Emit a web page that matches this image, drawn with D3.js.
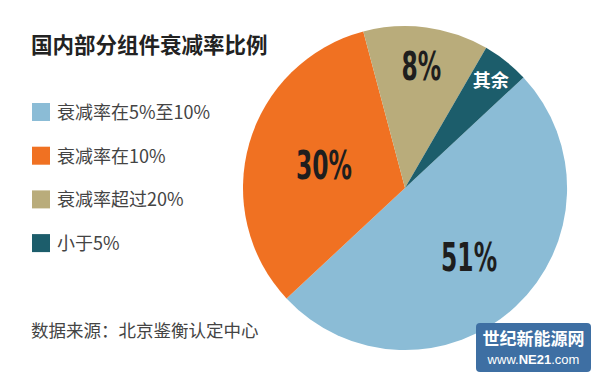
<!DOCTYPE html>
<html>
<head>
<meta charset="utf-8">
<script src="https://cdn.jsdelivr.net/npm/d3@7"></script>
<style>
  body { margin: 0; background: #fff; }
  svg { display: block; }
</style>
</head>
<body>
<div id="chart"></div>
<script>
// data
var categories = ['衰减率在5%至10%', '衰减率在10%', '衰减率超过20%', '小于5%'];
var sliceValues = [50, 32.8, 12.5, 4.7];
var sliceLabels = ['51%', '30%', '8%', '其余'];
var colors = ['#8bbcd6', '#f07122', '#b9ac7b', '#1c5d6b'];

var width = 600, height = 377;

var svg = d3.select('#chart').append('svg')
    .attr('width', width)
    .attr('height', height)
    .style('font-family', '"Noto Sans CJK SC", "Noto Sans", sans-serif');

svg.append('rect').attr('width', width).attr('height', height).attr('fill', '#fff');

// title
svg.append('text')
    .attr('x', 31).attr('y', 53)
    .attr('font-size', 21.5)
    .attr('font-weight', 'bold')
    .attr('fill', '#222')
    .text('国内部分组件衰减率比例');

// legend
var legend = svg.selectAll('.leg')
    .data(categories)
    .enter().append('g')
    .attr('class', 'leg')
    .attr('transform', function(d, i) { return 'translate(32,' + (103 + i * 43.7) + ')'; });

legend.append('rect')
    .attr('width', 18).attr('height', 18)
    .attr('fill', function(d, i) { return colors[i]; });

legend.append('text')
    .attr('x', 25).attr('y', 16)
    .attr('font-size', 18)
    .attr('fill', '#444')
    .text(function(d) { return d; });

// source
svg.append('text')
    .attr('x', 31).attr('y', 337)
    .attr('font-size', 17.5)
    .attr('fill', '#444')
    .text('数据来源：北京鉴衡认定中心');

// pie
var cx = 405, cy = 188, r = 162;
var start = 47 * Math.PI / 180;

var pie = d3.pie().sort(null)
    .startAngle(start)
    .endAngle(start + 2 * Math.PI);

var arc = d3.arc().innerRadius(0).outerRadius(r);

var g = svg.append('g').attr('transform', 'translate(' + cx + ',' + cy + ')');

var arcs = pie(sliceValues);

g.selectAll('path')
    .data(arcs)
    .enter().append('path')
    .attr('d', arc)
    .attr('fill', function(d, i) { return colors[i]; });

// label positions (radius factor per slice)
var labelR = [0.58, 0.52, 0.76, 0.85];
var labelSize = [39, 39, 39, 18];

g.selectAll('.lbl')
    .data(arcs)
    .enter().append('text')
    .attr('class', 'lbl')
    .attr('transform', function(d, i) {
        var a = (d.startAngle + d.endAngle) / 2;
        var rr = r * labelR[i];
        var t = 'translate(' + (Math.sin(a) * rr) + ',' + (-Math.cos(a) * rr) + ')';
        return i < 3 ? t + ' scale(0.6,1)' : t;
    })
    .attr('text-anchor', 'middle')
    .attr('dy', '0.36em')
    .attr('font-family', function(d, i) { return i < 3 ? '"DejaVu Sans", sans-serif' : '"Noto Sans CJK SC", sans-serif'; })
    .attr('font-size', function(d, i) { return labelSize[i]; })
    .attr('font-weight', 'bold')
    .attr('fill', function(d, i) { return i < 3 ? '#1e1e1e' : '#fff'; })
    .text(function(d, i) { return sliceLabels[i]; });

// watermark
var wm = svg.append('g').attr('transform', 'translate(476,323)');
wm.append('rect')
    .attr('width', 115).attr('height', 49).attr('rx', 4)
    .attr('fill', '#3e6fa3');
wm.append('text')
    .attr('x', 57.5).attr('y', 22)
    .attr('text-anchor', 'middle')
    .attr('font-size', 17)
    .attr('font-weight', 'bold')
    .attr('fill', '#fff')
    .text('世纪新能源网');
wm.append('text')
    .attr('x', 57.5).attr('y', 41)
    .attr('text-anchor', 'middle')
    .attr('font-size', 13)
    .attr('fill', '#fff')
    .attr('font-family', '"Liberation Sans", sans-serif')
    .html('www.<tspan font-weight="bold">NE21</tspan>.com');
</script>
</body>
</html>
